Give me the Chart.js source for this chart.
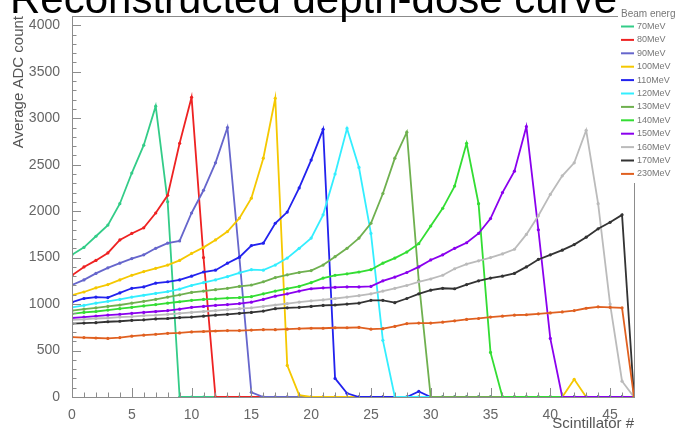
<!DOCTYPE html>
<html>
<head>
<meta charset="utf-8">
<script src="https://cdn.jsdelivr.net/npm/chart.js@4"></script>
<style>
  html, body { margin: 0; padding: 0; background: #fff; }
  #wrap { width: 675px; height: 431px; position: relative; }
</style>
</head>
<body>
<div id="wrap"><canvas id="c" width="675" height="431"></canvas></div>
<script>
// Scintillator index along the stack
const scintillator = [0,1,2,3,4,5,6,7,8,9,10,11,12,13,14,15,16,17,18,19,20,21,22,23,
                      24,25,26,27,28,29,30,31,32,33,34,35,36,37,38,39,40,41,42,43,44,45,46,47];

const energies = ['70MeV','80MeV','90MeV','100MeV','110MeV','120MeV',
                  '130MeV','140MeV','150MeV','160MeV','170MeV','230MeV'];

// Axis tick values
const yTicks = [0,500,1000,1500,2000,2500,3000,3500,4000];
const xTicks = [0,5,10,15,20,25,30,35,40,45];

// Average ADC count per scintillator, one array per beam energy
const adc70  = [1530,1610,1730,1850,2080,2410,2710,3130,2100,0,0,0,0,0,0,0,0,0,0,0,0,0,0,0,
                0,0,0,0,0,0,0,0,0,0,0,0,0,0,0,0,0,0,0,0,0,0,0,0];
const adc80  = [1310,1400,1470,1550,1690,1760,1820,1980,2170,2730,3225,1500,0,0,0,0,0,0,0,0,0,0,0,0,
                0,0,0,0,0,0,0,0,0,0,0,0,0,0,0,0,0,0,0,0,0,0,0,0];
const adc90  = [1205,1260,1330,1390,1440,1490,1530,1600,1655,1680,1980,2225,2520,2900,1500,50,0,0,0,0,0,0,0,0,
                0,0,0,0,0,0,0,0,0,0,0,0,0,0,0,0,0,0,0,0,0,0,0,0];
const adc100 = [1095,1130,1175,1210,1260,1310,1350,1385,1420,1470,1545,1610,1690,1780,1925,2140,2570,3215,340,20,0,0,0,0,
                0,0,0,0,0,0,0,0,0,0,0,0,0,0,0,0,0,0,190,0,0,0,0,0];
const adc110 = [1020,1060,1075,1070,1120,1170,1185,1225,1240,1260,1300,1345,1365,1440,1505,1630,1655,1870,1990,2250,2550,2880,200,40,
                0,0,0,0,0,60,0,0,0,0,0,0,0,0,0,0,0,0,0,0,0,0,0,0];
const adc120 = [965,985,1010,1030,1050,1075,1095,1115,1135,1160,1200,1230,1260,1295,1335,1370,1365,1420,1495,1600,1710,1960,2400,2890,
                2470,1760,610,0,0,0,0,0,0,0,0,0,0,0,0,0,0,0,0,0,0,0,0,0];
const adc130 = [930,945,960,975,990,1010,1030,1050,1075,1100,1125,1140,1155,1170,1190,1205,1240,1285,1315,1340,1360,1420,1510,1600,
                1710,1870,2190,2570,2850,1250,0,0,0,0,0,0,0,0,0,0,0,0,0,0,0,0,0,0];
const adc140 = [895,910,920,935,950,965,980,995,1010,1025,1040,1050,1055,1065,1070,1080,1110,1140,1165,1190,1230,1280,1310,1325,
                1345,1370,1440,1495,1560,1650,1840,2030,2270,2730,2080,480,0,0,0,0,0,0,0,0,0,0,0,0];
const adc150 = [850,860,870,880,890,900,910,920,930,945,965,975,985,995,1005,1020,1050,1085,1110,1140,1165,1175,1180,1185,
                1185,1190,1250,1290,1340,1400,1475,1530,1600,1660,1760,1920,2200,2430,2910,1800,630,0,0,0,0,0,0,0];
const adc160 = [830,835,845,850,860,865,875,880,890,900,910,920,930,940,950,960,975,990,1005,1020,1035,1045,1060,1075,
                1090,1110,1140,1170,1200,1240,1270,1310,1380,1430,1465,1500,1540,1590,1750,1950,2180,2380,2520,2870,2080,1000,170,0];
const adc170 = [790,795,800,810,815,825,830,840,845,855,860,870,880,890,900,910,925,950,960,965,975,985,990,1000,
                1010,1040,1040,1015,1060,1110,1150,1170,1165,1210,1250,1280,1300,1330,1400,1480,1530,1580,1640,1720,1810,1880,1960,0];
const adc230 = [645,640,635,630,640,655,665,675,685,690,700,705,710,715,715,720,725,725,730,735,740,740,745,745,
                750,730,735,760,790,795,795,805,820,835,845,860,870,880,885,895,905,915,930,955,970,965,960,0];

const seriesValues = [adc70, adc80, adc90, adc100, adc110, adc120,
                      adc130, adc140, adc150, adc160, adc170, adc230];

const lineColors = ['#33cc88','#ee2222','#6666cc','#f5c800','#2222ee','#33eeff',
                    '#6fb04f','#33dd33','#8a00ee','#bbbbbb','#333333','#e06020'];

const FONT = '"Liberation Sans", Arial, Helvetica, sans-serif';

const datasets = energies.map((name, i) => ({
  label: name,
  data: scintillator.map((s, k) => ({ x: s, y: seriesValues[i][k] })),
  borderColor: lineColors[i],
  backgroundColor: lineColors[i],
  pointBackgroundColor: lineColors[i],
  pointBorderWidth: 0,
  pointRadius: 1.6,
  borderWidth: 1.8,
  tension: 0,
  order: energies.length - i
}));

// Frame box and ROOT-style inward ticks (major + minor)
const framePlugin = {
  id: 'frame',
  afterDatasetsDraw(chart) {
    const { ctx, chartArea: a, scales } = chart;
    const xs = scales.x, ys = scales.y;
    ctx.save();
    ctx.strokeStyle = '#8c8c8c';
    ctx.lineWidth = 1;
    ctx.strokeRect(Math.round(a.left) + 0.5, Math.round(a.top) + 0.5,
                   Math.round(a.right - a.left), Math.round(a.bottom - a.top));
    ctx.beginPath();
    for (let v = 0; v <= ys.max; v += 100) {
      const py = Math.round(ys.getPixelForValue(v)) + 0.5;
      const len = yTicks.includes(v) ? 9 : 4.5;
      ctx.moveTo(a.left, py);
      ctx.lineTo(a.left + len, py);
    }
    for (let v = 0; v <= xs.max; v += 1) {
      const px = Math.round(xs.getPixelForValue(v)) + 0.5;
      const len = xTicks.includes(v) ? 9 : 4.5;
      ctx.moveTo(px, a.bottom);
      ctx.lineTo(px, a.bottom - len);
    }
    ctx.stroke();
    ctx.restore();
  }
};

// Energy legend box and the canvas title
const decorPlugin = {
  id: 'decor',
  afterDraw(chart) {
    const { ctx } = chart;
    ctx.save();
    ctx.fillStyle = '#fff';
    ctx.fillRect(618, 0, 57, 183);
    ctx.textAlign = 'left';
    ctx.textBaseline = 'middle';
    ctx.fillStyle = '#777';
    ctx.font = '10px ' + FONT;
    ctx.fillText('Beam energy', 621, 14);
    ctx.font = '9px ' + FONT;
    chart.data.datasets.forEach((ds, i) => {
      const y = 26.5 + i * 13.4;
      ctx.strokeStyle = ds.borderColor;
      ctx.lineWidth = 2;
      ctx.beginPath();
      ctx.moveTo(621, y);
      ctx.lineTo(634, y);
      ctx.stroke();
      ctx.fillStyle = '#777';
      ctx.fillText(ds.label, 637, y);
    });

    ctx.fillStyle = '#000';
    ctx.font = '42px ' + FONT;
    ctx.textAlign = 'left';
    ctx.textBaseline = 'alphabetic';
    ctx.fillText('Reconstructed depth-dose curve', 10, 13);
    ctx.restore();
  }
};

const fixedTicks = list => scale => { scale.ticks = list.map(v => ({ value: v })); };
const plainNumber = v => String(v);

new Chart(document.getElementById('c'), {
  type: 'line',
  data: { datasets },
  options: {
    responsive: false,
    animation: false,
    events: [],
    layout: { padding: { left: 0, right: 41, top: 16, bottom: 0 } },
    plugins: { legend: { display: false }, tooltip: { enabled: false }, title: { display: false } },
    scales: {
      x: {
        type: 'linear',
        min: 0,
        max: 47,
        afterBuildTicks: fixedTicks(xTicks),
        ticks: {
          callback: plainNumber,
          autoSkip: false,
          maxRotation: 0,
          padding: 2,
          color: '#666',
          font: { family: FONT, size: 14 }
        },
        grid: { display: false },
        border: { display: false },
        title: {
          display: true,
          text: 'Scintillator #',
          align: 'end',
          color: '#555',
          font: { family: FONT, size: 15, lineHeight: 1 },
          padding: { top: 0, bottom: 0 }
        },
        afterFit(scale) { scale.height = 34; }
      },
      y: {
        type: 'linear',
        min: 0,
        max: 4100,
        afterBuildTicks: fixedTicks(yTicks),
        ticks: {
          callback: plainNumber,
          autoSkip: false,
          padding: 4,
          color: '#666',
          font: { family: FONT, size: 14 }
        },
        grid: { display: false },
        border: { display: false },
        title: {
          display: true,
          text: 'Average ADC count',
          align: 'end',
          color: '#555',
          font: { family: FONT, size: 15, lineHeight: 1.2 },
          padding: { top: 10, bottom: 0 }
        },
        afterFit(scale) { scale.width = 72; }
      }
    }
  },
  plugins: [framePlugin, decorPlugin]
});
</script>
</body>
</html>
